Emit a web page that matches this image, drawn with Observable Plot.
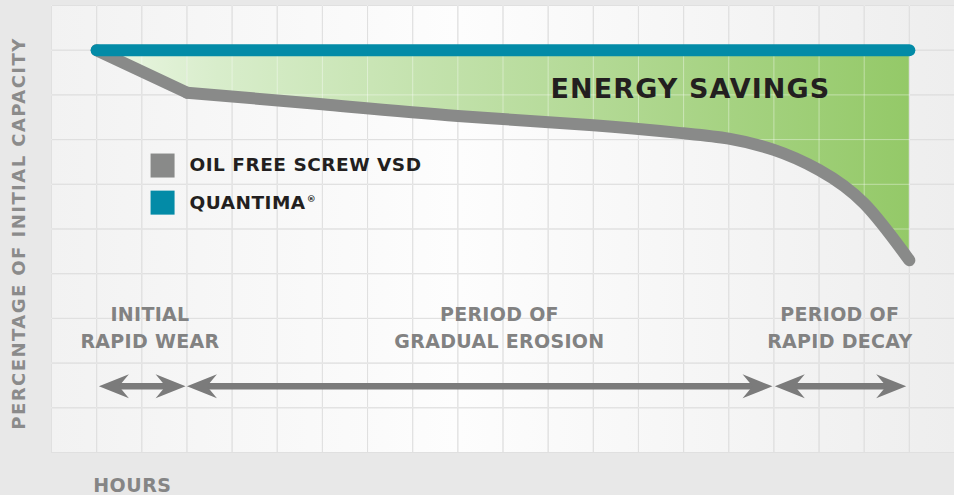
<!DOCTYPE html>
<html><head><meta charset="utf-8">
<script src="https://cdn.jsdelivr.net/npm/d3@7"></script>
<script src="https://cdn.jsdelivr.net/npm/@observablehq/plot@0.6"></script>
<style>
html,body{margin:0;padding:0;background:#e8e8e8;}
#chart svg{display:block;}
</style></head><body><div id="chart"></div>
<script>
// ---- data (hours in grid units, capacity in grid units) ----
const hours = [1, 3, 6, 9, 12, 14, 15, 16, 17, 18, 19];
const oilFreeScrewVSD = [9.0, 8.05, 7.79, 7.53, 7.32, 7.14, 7.02, 6.77, 6.32, 5.57, 4.3];
const quantimaHours = [1, 19];
const quantima = [9.0, 9.0];
const periodLabels = ["INITIAL\nRAPID WEAR", "PERIOD OF\nGRADUAL EROSION", "PERIOD OF\nRAPID DECAY"];
const periodStart = [1.05, 3.0, 16.02];
const periodEnd = [2.97, 15.97, 18.93];
const periodLabelHour = [2.18, 9.92, 17.46];
const legendLabels = ["OIL FREE SCREW VSD", "QUANTIMA®"];
const legendColors = ["#898a89", "#038ba7"];
const legendLevel = [6.42, 5.59];
const gridHours = [0,1,2,3,4,5,6,7,8,9,10,11,12,13,14,15,16,17,18,19,20];
const gridLevels = [0,1,2,3,4,5,6,7,8,9,10];

const GRAY = "#898a89", TEAL = "#038ba7", ARROW = "#7b7b7b", LABEL = "#828282", DARK = "#231f20";

const vsdRows = hours.map((h, i) => ({hour: h, vsd: oilFreeScrewVSD[i], top: quantima[0]}));
const wear = vsdRows.slice(0, 2);
const later = vsdRows.slice(1);
const qRows = quantimaHours.map((h, i) => ({hour: h, value: quantima[i]}));
const periods = periodStart.map((s, i) => ({start: s, end: periodEnd[i], label: periodLabels[i], lx: periodLabelHour[i]}));
const legend = legendLabels.map((l, i) => ({label: l, color: legendColors[i], level: legendLevel[i]}));

const headShape = {
  draw(ctx, l) {
    ctx.moveTo(0, -l);
    ctx.lineTo(12, 0);
    ctx.lineTo(0, -10);
    ctx.lineTo(-12, 0);
    ctx.closePath();
  }
};

const ARROW_Y = 1.48;

const chart = Plot.plot({
  width: 954, height: 495,
  marginLeft: 51, marginRight: 0, marginTop: 5, marginBottom: 43,
  x: {domain: [0, 20], axis: null},
  y: {domain: [0, 10], axis: null},
  color: {type: "identity"},
  style: {background: "#e8e8e8", fontFamily: "DejaVu Sans", overflow: "visible"},
  marks: [
    Plot.frame({fill: "url(#bgGrad)", stroke: "none"}),
    Plot.gridX(gridHours, {stroke: "#cbcbcb", strokeOpacity: 1}),
    Plot.gridY(gridLevels, {stroke: "#cbcbcb", strokeOpacity: 1}),
    Plot.areaY(wear, {x: "hour", y1: "top", y2: "vsd", fill: "url(#greenGrad)"}),
    Plot.areaY(later, {x: "hour", y1: "top", y2: "vsd", curve: "natural", fill: "url(#greenGrad)"}),
    Plot.gridX(gridHours, {stroke: "#ffffff", strokeOpacity: 0.4}),
    Plot.gridY(gridLevels, {stroke: "#ffffff", strokeOpacity: 0.4}),
    Plot.line(wear, {x: "hour", y: "vsd", stroke: GRAY, strokeWidth: 12, strokeLinecap: "round", strokeLinejoin: "round"}),
    Plot.line(later, {x: "hour", y: "vsd", curve: "natural", stroke: GRAY, strokeWidth: 12, strokeLinecap: "round", strokeLinejoin: "round"}),
    Plot.line(qRows, {x: "hour", y: "value", stroke: TEAL, strokeWidth: 12, strokeLinecap: "round"}),
    Plot.ruleY(periods, {y: ARROW_Y, x1: "start", x2: "end", stroke: ARROW, strokeWidth: 6.5, insetLeft: 14, insetRight: 14}),
    Plot.vector(periods, {x: "start", y: ARROW_Y, length: 30, rotate: -90, anchor: "end", shape: headShape, fill: ARROW, stroke: "none"}),
    Plot.vector(periods, {x: "end", y: ARROW_Y, length: 30, rotate: 90, anchor: "end", shape: headShape, fill: ARROW, stroke: "none"}),
    Plot.text(periods, {x: "lx", y: 2.33, text: "label", lineAnchor: "bottom", lineHeight: 1.42, fontSize: 19, fontWeight: "bold", fill: LABEL}),
    Plot.text(["ENERGY SAVINGS"], {x: 14.15, y: 7.935, text: d => d, lineAnchor: "bottom", fontSize: 27, fontWeight: "bold", fill: DARK}),
    Plot.dot(legend, {x: 2.46, y: "level", symbol: "square", r: 13.54, fill: "color", stroke: "none"}),
    Plot.text(legend, {x: 3.056, y: "level", text: "label", textAnchor: "start", lineAnchor: "middle", fontSize: 18.5, fontWeight: "bold", fill: DARK}),
    Plot.text(["PERCENTAGE OF INITIAL CAPACITY"], {x: -0.713, y: 4.9, text: d => d, rotate: -90, lineAnchor: "middle", fontSize: 18, fontWeight: "bold", fill: "#8b8b8b"}),
    Plot.text(["HOURS"], {x: 0.923, y: -0.888, text: d => d, textAnchor: "start", lineAnchor: "bottom", fontSize: 19, fontWeight: "bold", fill: "#858585"})
  ]
});

const svg = d3.select(chart);
const xs = chart.scale("x");
const defs = svg.insert("defs", ":first-child");
const bg = defs.append("linearGradient").attr("id", "bgGrad").attr("x1", 0).attr("x2", 1).attr("y1", 0).attr("y2", 0);
bg.append("stop").attr("offset", 0).attr("stop-color", "#f2f2f2");
bg.append("stop").attr("offset", 0.45).attr("stop-color", "#fdfdfd");
bg.append("stop").attr("offset", 1).attr("stop-color", "#eeeeee");
const gg = defs.append("linearGradient").attr("id", "greenGrad").attr("gradientUnits", "userSpaceOnUse")
  .attr("x1", xs.apply(quantimaHours[0])).attr("x2", xs.apply(quantimaHours[1])).attr("y1", 0).attr("y2", 0);
gg.append("stop").attr("offset", 0).attr("stop-color", "#ebf6e3");
gg.append("stop").attr("offset", 0.15).attr("stop-color", "#d8edcb");
gg.append("stop").attr("offset", 1).attr("stop-color", "#94c968");

// letter spacing per label (typographic styling)
const spacing = [
  ["ENERGY SAVINGS", "1.1px"],
  ["PERCENTAGE", "1.45px"],
  ["HOURS", "0.5px"],
  ["OIL FREE", "0.5px"],
  ["QUANTIMA", "0.5px"],
  ["INITIAL", "0.3px"],
  ["PERIOD OF", "0.3px"]
];
svg.selectAll("text").each(function() {
  const t = this.textContent;
  for (const [k, v] of spacing) if (t.startsWith(k)) d3.select(this).attr("letter-spacing", v);
  if (t === "QUANTIMA®") {
    this.textContent = "QUANTIMA";
    d3.select(this).append("tspan").attr("font-size", 9).attr("dy", "-0.7em").attr("dx", 1).text("®");
  }
});

document.getElementById("chart").appendChild(chart);
</script>
</body></html>
